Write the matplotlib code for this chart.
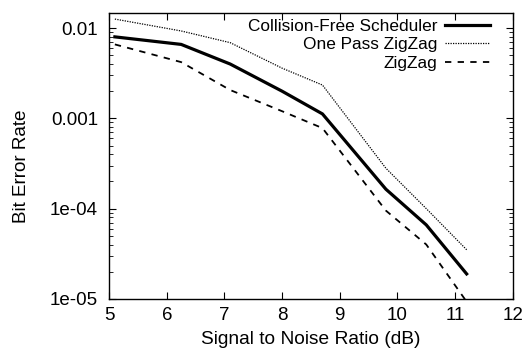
import numpy as np
import matplotlib
matplotlib.use("Agg")
import matplotlib.pyplot as plt
from matplotlib.ticker import FixedLocator, LogLocator, NullFormatter

plt.rcParams['font.family'] = ['Liberation Sans', 'DejaVu Sans']

# dados
snr = [5.1, 6.25, 7.1, 8.0, 8.7, 9.8, 10.5, 11.2]
ber_cfs = [0.0080, 0.0066, 0.0040, 0.0020, 0.00112, 1.64e-4, 6.6e-5, 1.89e-5]
ber_onepass = [0.0126, 0.0093, 0.0069, 0.0036, 0.00234, 2.8e-4, 1.0e-4, 3.5e-5]
ber_zigzag = [0.0066, 0.0042, 0.00206, 0.0012, 0.00078, 9.5e-5, 4.0e-5, 9.3e-6]

ytick_vals = [1e-5, 1e-4, 1e-3, 1e-2]
ytick_labels = ['1e-05', '1e-04', '0.001', '0.01']

fig = plt.figure(figsize=(5.27, 3.52), dpi=100)
ax = fig.add_axes([0.207, 0.151, 0.766, 0.812])

ax.plot(snr, ber_cfs, color='black', lw=2.3, label='Collision-Free Scheduler')
ax.plot(snr, ber_onepass, color='black', lw=0.9, linestyle=(0, (1, 1)), label='One Pass ZigZag')
ax.plot(snr, ber_zigzag, color='black', lw=1.3, linestyle=(0, (3.5, 3.5)), label='ZigZag')

ax.set_yscale('log')
ax.set_xlim(5, 12)
ax.set_ylim(1e-5, 0.0147)
ax.yaxis.set_major_locator(FixedLocator(ytick_vals))
ax.set_yticklabels(ytick_labels)
ax.yaxis.set_minor_locator(LogLocator(base=10, subs=np.arange(2, 10)))
ax.yaxis.set_minor_formatter(NullFormatter())
ax.set_xticks(range(5, 13))

ax.tick_params(which='both', direction='in', top=True, right=True, labelsize=13.5)
ax.tick_params(axis='y', pad=8)
ax.tick_params(axis='x', pad=6)
ax.tick_params(which='major', length=5)
ax.tick_params(which='minor', length=3)
for s in ax.spines.values():
    s.set_linewidth(1)

ax.set_xlabel('Signal to Noise Ratio (dB)', fontsize=13.8, labelpad=5)
ax.set_ylabel('Bit Error Rate', fontsize=13.6)
ax.yaxis.set_label_coords(-0.197, 0.465)

ax.legend(loc='upper right', bbox_to_anchor=(0.943, 0.98), frameon=False,
          markerfirst=False, fontsize=12.4, handlelength=2.6, handletextpad=0.45,
          labelspacing=0.2, borderaxespad=0, borderpad=0)

fig.savefig('out.png', dpi=100)
